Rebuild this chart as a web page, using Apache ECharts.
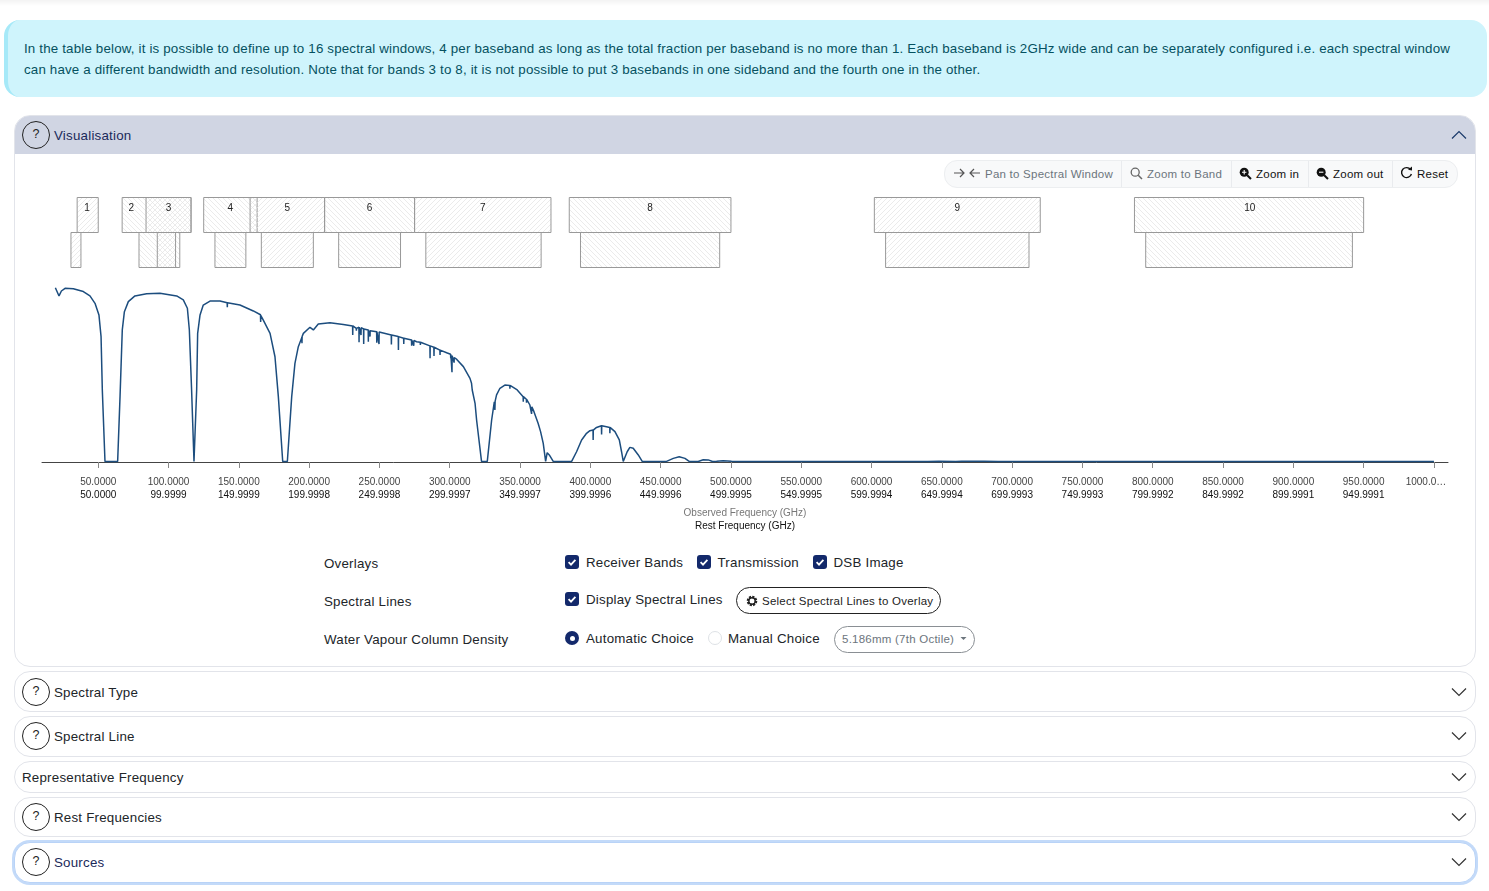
<!DOCTYPE html>
<html>
<head>
<meta charset="utf-8">
<title>Visualisation</title>
<script src="https://cdn.jsdelivr.net/npm/echarts@6/dist/echarts.min.js"></script>
<style>
  html, body { margin: 0; padding: 0; background: #fff; overflow: hidden; }
  body { width: 1489px; height: 891px; position: relative; font-family: "Liberation Sans", Arial, sans-serif; color: #212529; }
  .abs { position: absolute; white-space: nowrap; }
  .topfade { left: 0; top: 0; width: 1489px; height: 6px; background: linear-gradient(#f3f3f3, #fff); }
  .alert { left: 4px; top: 20px; width: 1459px; height: 77px; padding: 0 0 0 20px; box-sizing: content-box; background: #cff4fc; border-left: 4px solid #a6e9f8; border-radius: 16px; color: #055160; font-size: 13.33px; letter-spacing: 0.17px; line-height: 21.5px; white-space: normal; }
  .alert div { position: absolute; left: 16px; white-space: nowrap; }
  .card { left: 14px; width: 1460px; border: 1px solid #e2e4ea; border-radius: 16px; background: #fff; box-sizing: content-box; }
  .head { font-size: 13.33px; letter-spacing: 0.22px; line-height: 16px; }
  .q { width: 26px; height: 26px; border: 1px solid #222; border-radius: 50%; text-align: center; font-size: 12.5px; line-height: 24px; color: #222; background: transparent; }
  .lab { font-size: 13.33px; letter-spacing: 0.22px; color: #212529; line-height: 16px; }
  .chk { width: 14px; height: 14px; border-radius: 3px; background: #13296b; }
  .toolbar { left: 944px; top: 160px; width: 512px; height: 26px; border: 1px solid #eceef0; border-radius: 13px; background: #f8f9fa; }
  .sep { top: 161px; width: 1px; height: 26px; background: #e9ebee; }
  .tb { font-size: 11.5px; letter-spacing: 0.24px; line-height: 14px; top: 167px; }
  .pill { border: 1px solid #222; border-radius: 14px; box-sizing: border-box; }
  #chart { position: absolute; left: 20px; top: 190px; width: 1450px; height: 345px; }
</style>
</head>
<body>
<div class="abs topfade"></div>
<div class="abs alert">
  <div style="top:18px">In the table below, it is possible to define up to 16 spectral windows, 4 per baseband as long as the total fraction per baseband is no more than 1. Each baseband is 2GHz wide and can be separately configured i.e. each spectral window</div>
  <div style="top:39px">can have a different bandwidth and resolution. Note that for bands 3 to 8, it is not possible to put 3 basebands in one sideband and the fourth one in the other.</div>
</div>

<div class="abs card" style="top:115px;height:550px"></div>
<div class="abs" style="left:15px;top:116px;width:1460px;height:38px;background:#d0d5e3;border-radius:15px 15px 0 0"></div>
<div class="abs q" style="left:22px;top:121px">?</div>
<div class="abs head" style="left:54px;top:128px;color:#1b2a5a">Visualisation</div>
<svg class="abs" style="left:1451px;top:130px" width="16" height="10"><path d="M1 8.5 L8 1.5 L15 8.5" fill="none" stroke="#1b3a6b" stroke-width="1.2"/></svg>

<div class="abs toolbar"></div>
<div class="abs sep" style="left:1121px"></div>
<div class="abs sep" style="left:1231px"></div>
<div class="abs sep" style="left:1308px"></div>
<div class="abs sep" style="left:1392px"></div>
<svg class="abs" style="left:953px;top:167px" width="28" height="12"><path d="M1 6 H11 M7 2 L11 6 L7 10 M27 6 H17 M21 2 L17 6 L21 10" fill="none" stroke="#555" stroke-width="1.2"/></svg>
<div class="abs tb" style="left:985px;color:#6c757d">Pan to Spectral Window</div>
<svg class="abs" style="left:1130px;top:167px" width="13" height="13"><circle cx="5.2" cy="5.2" r="4" fill="none" stroke="#666" stroke-width="1.3"/><path d="M8.2 8.2 L12 12" stroke="#666" stroke-width="1.5"/></svg>
<div class="abs tb" style="left:1147px;color:#6c757d">Zoom to Band</div>
<svg class="abs" style="left:1239px;top:167px" width="13" height="13"><circle cx="5.2" cy="5.2" r="4.5" fill="#111"/><path d="M8.2 8.2 L12 12" stroke="#111" stroke-width="2"/><path d="M3 5.2 H7.4 M5.2 3 V7.4" stroke="#fff" stroke-width="1.1"/></svg>
<div class="abs tb" style="left:1256px;color:#111">Zoom in</div>
<svg class="abs" style="left:1316px;top:167px" width="13" height="13"><circle cx="5.2" cy="5.2" r="4.5" fill="#111"/><path d="M8.2 8.2 L12 12" stroke="#111" stroke-width="2"/><path d="M3 5.2 H7.4" stroke="#fff" stroke-width="1.1"/></svg>
<div class="abs tb" style="left:1333px;color:#111">Zoom out</div>
<svg class="abs" style="left:1400px;top:166px" width="13" height="14"><path d="M10.6 3.6 A5 5 0 1 0 11.4 8" fill="none" stroke="#111" stroke-width="1.4"/><path d="M8 3.8 L12 4.4 L12 0.6 Z" fill="#111"/></svg>
<div class="abs tb" style="left:1417px;color:#111">Reset</div>

<div id="chart"></div>

<div class="abs lab" style="left:324px;top:556px">Overlays</div>
<div class="abs lab" style="left:324px;top:594px">Spectral Lines</div>
<div class="abs lab" style="left:324px;top:632px">Water Vapour Column Density</div>

<div class="abs chk" style="left:565px;top:555px"><svg width="14" height="14"><path d="M3.6 7.2 L6 9.6 L10.4 4.8" fill="none" stroke="#fff" stroke-width="1.8"/></svg></div>
<div class="abs lab" style="left:586px;top:555px">Receiver Bands</div>
<div class="abs chk" style="left:697px;top:555px"><svg width="14" height="14"><path d="M3.6 7.2 L6 9.6 L10.4 4.8" fill="none" stroke="#fff" stroke-width="1.8"/></svg></div>
<div class="abs lab" style="left:717.5px;top:555px">Transmission</div>
<div class="abs chk" style="left:813px;top:555px"><svg width="14" height="14"><path d="M3.6 7.2 L6 9.6 L10.4 4.8" fill="none" stroke="#fff" stroke-width="1.8"/></svg></div>
<div class="abs lab" style="left:833.5px;top:555px">DSB Image</div>

<div class="abs chk" style="left:565px;top:592px"><svg width="14" height="14"><path d="M3.6 7.2 L6 9.6 L10.4 4.8" fill="none" stroke="#fff" stroke-width="1.8"/></svg></div>
<div class="abs lab" style="left:586px;top:592px">Display Spectral Lines</div>
<div class="abs pill" style="left:736px;top:587px;width:205px;height:27px"></div>
<svg class="abs" style="left:746px;top:595px" width="12" height="12"><circle cx="6" cy="6" r="4" fill="none" stroke="#222" stroke-width="2.6" stroke-dasharray="2 1.1"/><circle cx="6" cy="6" r="3.2" fill="none" stroke="#222" stroke-width="1.4"/></svg>
<div class="abs" style="left:762px;top:594px;font-size:11.5px;letter-spacing:0.24px;line-height:14px;color:#222">Select Spectral Lines to Overlay</div>

<div class="abs" style="left:565px;top:631px;width:14px;height:14px;border-radius:50%;background:#13296b"><div style="position:absolute;left:4.5px;top:4.5px;width:5px;height:5px;border-radius:50%;background:#fff"></div></div>
<div class="abs lab" style="left:586px;top:631px">Automatic Choice</div>
<div class="abs" style="left:708px;top:631px;width:12px;height:12px;border-radius:50%;border:1px solid #dee2e6;background:#fff"></div>
<div class="abs lab" style="left:728px;top:631px">Manual Choice</div>
<div class="abs pill" style="left:834px;top:626px;width:141px;height:27px;border-color:#8a8f94"></div>
<div class="abs" style="left:842px;top:632px;font-size:11.5px;letter-spacing:0.24px;line-height:14px;color:#6c757d">5.186mm (7th Octile)</div>
<svg class="abs" style="left:960px;top:636px" width="8" height="6"><path d="M0.5 1 H6.5 L3.5 4 Z" fill="#6c757d"/></svg>

<div class="abs card" style="top:671px;height:39px"></div>
<div class="abs q" style="left:22px;top:678px">?</div>
<div class="abs head" style="left:54px;top:685px">Spectral Type</div>
<div class="abs card" style="top:716px;height:39px"></div>
<div class="abs q" style="left:22px;top:722px">?</div>
<div class="abs head" style="left:54px;top:729px">Spectral Line</div>
<div class="abs card" style="top:761px;height:30px"></div>
<div class="abs head" style="left:22px;top:770px">Representative Frequency</div>
<div class="abs card" style="top:797px;height:38px"></div>
<div class="abs q" style="left:22px;top:803px">?</div>
<div class="abs head" style="left:54px;top:810px">Rest Frequencies</div>
<div class="abs card" style="top:842px;height:39px;border-color:#b9d3f7;box-shadow:0 0 0 2px #c3daf9"></div>
<div class="abs q" style="left:22px;top:848px">?</div>
<div class="abs head" style="left:54px;top:855px;color:#1b2a5a">Sources</div>
<svg class="abs" style="left:1451px;top:687px" width="16" height="10"><path d="M1 1.5 L8 8.5 L15 1.5" fill="none" stroke="#333" stroke-width="1.2"/></svg>
<svg class="abs" style="left:1451px;top:731px" width="16" height="10"><path d="M1 1.5 L8 8.5 L15 1.5" fill="none" stroke="#333" stroke-width="1.2"/></svg>
<svg class="abs" style="left:1451px;top:772px" width="16" height="10"><path d="M1 1.5 L8 8.5 L15 1.5" fill="none" stroke="#333" stroke-width="1.2"/></svg>
<svg class="abs" style="left:1451px;top:812px" width="16" height="10"><path d="M1 1.5 L8 8.5 L15 1.5" fill="none" stroke="#333" stroke-width="1.2"/></svg>
<svg class="abs" style="left:1451px;top:857px" width="16" height="10"><path d="M1 1.5 L8 8.5 L15 1.5" fill="none" stroke="#333" stroke-width="1.2"/></svg>

<script>
// Receiver bands (GHz)
const bandNames = ["1", "2", "3", "4", "5", "6", "7", "8", "9", "10"];
const bandLow   = [35, 67, 84, 125, 158, 211, 275, 385, 602, 787];
const bandHigh  = [50, 116, 116, 163, 211, 275, 372, 500, 720, 950];
const bandLabelAt = [42, 73.5, 100, 144, 184.5, 243, 323.5, 442.5, 661, 869];

// DSB image of each band (GHz)
const imageLow  = [30.6, 79, 92, 133, 166, 221, 283, 393, 610, 795];
const imageHigh = [37.7, 108, 105, 155, 203, 265, 365, 492, 712, 942];

// x axis ticks
const tickFreqs = [50, 100, 150, 200, 250, 300, 350, 400, 450, 500, 550, 600, 650, 700, 750, 800, 850, 900, 950, 1000];
const observedLabels = ["50.0000", "100.0000", "150.0000", "200.0000", "250.0000", "300.0000", "350.0000", "400.0000", "450.0000", "500.0000", "550.0000", "600.0000", "650.0000", "700.0000", "750.0000", "800.0000", "850.0000", "900.0000", "950.0000", "1000.0…"];
const restLabels = ["50.0000", "99.9999", "149.9999", "199.9998", "249.9998", "299.9997", "349.9997", "399.9996", "449.9996", "499.9995", "549.9995", "599.9994", "649.9994", "699.9993", "749.9993", "799.9992", "849.9992", "899.9991", "949.9991", ""];

// Atmospheric transmission, [GHz, fraction]
const transmissionLow = [
  [19.5,.917],[22.1,.874],[23.8,.900],[26.4,.914],[32.3,.912],[39.4,.897],[44.1,.874],[47.7,.835],[50.5,.774],[52,.66],[52.9,.379],[54.8,.003],
  [63.8,.003],[65.5,.344],[67.1,.695],[68.6,.791],[71.4,.844],[76.1,.874],[84.4,.886],[93.9,.888],[105.8,.874],[110.5,.853],[113.4,.809],[114.8,.695],[116.4,.379],[118.1,.003],
  [118.8,.003],[120,.379],[120.7,.677],[122.4,.774],[124.7,.826],[129.5,.847],[136.6,.847],[141.7,.838],[141.8,.814],[141.9,.838],[150.8,.826],[160.3,.795],[165.4,.775],[165.5,.737],[165.7,.770],[167.4,.747],[172.2,.677],[175.7,.554],[178.1,.344],[181.2,.003],
  [184.5,.003],[187.6,.344],[189.9,.519],[192.3,.607],[194.8,.655],[194.9,.625],[195,.66],[195.9,.677],[200.6,.709],[203,.695],[206.5,.726],[214.8,.733],[224.3,.724]
];
const transmissionMid = [
  [230.9,.716],[231,.668],[231.1,.716],[233.5,.703],[233.6,.691],[233.7,.703],[235.4,.709],[235.5,.63],[235.6,.709],[236.8,.707],[236.9,.668],[237,.707],
  [238.7,.7],[238.8,.621],[238.9,.7],[242,.695],[242.1,.633],[242.2,.695],[243.2,.691],[243.3,.66],[243.4,.691],[248,.686],[248.1,.628],[248.2,.686],[249.6,.684],[249.7,.621],[249.8,.684],
  [258.4,.668],[258.5,.619],[258.6,.668],[263.4,.66],[263.5,.589],[263.6,.66],[267.2,.651],[267.3,.621],[267.4,.651],[272.8,.642],[272.9,.612],[273,.642],[274.3,.64],[274.4,.612],[274.5,.64],
  [276.4,.633],[276.5,.623],[276.6,.633],[279,.63],[279.1,.616],[279.2,.63],[285.9,.611],[286,.546],[286.1,.611],[288.7,.604],[288.8,.558],[288.9,.604],[293,.589],[293.1,.563],[293.2,.589],
  [297.8,.575],[300.6,.567],[300.7,.546],[300.8,.565],[301.5,.563],[301.6,.472],[301.7,.56],[303,.554],[303.1,.523],[303.2,.55],[305,.54],[309.7,.502],[314.4,.44],[315.5,.414],[316,.379],[316.1,.388],[318,.309],[319.1,.221]
];
const transmissionHigh = [
  [322.6,.003],[326.7,.003],[329.8,.221],[331.7,.317],[332.1,.274],[332.3,.32],[333.3,.353],[335.7,.388],[339.2,.405],[342.7,.403],[342.8,.386],[342.9,.403],[348,.379],
  [352.2,.344],[352.3,.317],[352.4,.344],[354.5,.33],[354.6,.312],[354.7,.33],[357,.3],[358.2,.253],[358.4,.29],[359.9,.265],[362.9,.203],[364.6,.16],[366.5,.098],[368.2,.003],[369.3,.049],[370.8,.037],[373.6,.003],
  [386.7,.003],[390.2,.054],[393.8,.116],[397.3,.151],[399.7,.165],[401.9,.168],[402,.116],[402.1,.168],[404.4,.182],[407.9,.191],[408,.145],[408.1,.191],[411.5,.186],[413.8,.182],[413.9,.151],[414,.182],[417.5,.16],[420.6,.116],[422.2,.054],[423.4,.003],
  [424.6,.003],[426.2,.054],[428.1,.077],[430.5,.072],[434.1,.037],[436.9,.003],[454.2,.003],[459,.019],[463.2,.028],[467.3,.019],[470.3,.003],[476.7,.003],[480.3,.012],[483.9,.011],[486.9,.003],[489.8,.004],[494.5,.007],[500.4,.004],[505.2,.002],
  [640,.002],[648,.004],[660,.002],[664,.004],[680,.004],[690,.002],[1000,.002]
];

const LINE_COLOR = "#1c4d7e";

function hatch(forward) {
  const size = 5;
  const c = document.createElement("canvas");
  c.width = size; c.height = size;
  const g = c.getContext("2d");
  g.strokeStyle = "#e3e3e3";
  g.lineWidth = 0.7;
  g.beginPath();
  if (forward) {
    g.moveTo(-1, 1); g.lineTo(1, -1);
    g.moveTo(0, size); g.lineTo(size, 0);
    g.moveTo(size - 1, size + 1); g.lineTo(size + 1, size - 1);
  } else {
    g.moveTo(-1, size - 1); g.lineTo(1, size + 1);
    g.moveTo(0, 0); g.lineTo(size, size);
    g.moveTo(size - 1, -1); g.lineTo(size + 1, 1);
  }
  g.stroke();
  return c;
}
const hatchForward = { image: hatch(true), repeat: "repeat" };
const hatchBack = { image: hatch(false), repeat: "repeat" };

const bandBoxes = [];
bandNames.forEach((name, i) => {
  bandBoxes.push([bandLow[i], bandHigh[i], 0, i, bandLabelAt[i], name]);
});
imageLow.forEach((low, i) => {
  bandBoxes.push([low, imageHigh[i], 1, i, null, ""]);
});

function renderBox(params, api) {
  const topLeft = api.coord([api.value(0), api.value(2)]);
  const bottomRight = api.coord([api.value(1), api.value(2) + 1]);
  const band = api.value(3);
  const children = [{
    type: "rect",
    shape: { x: topLeft[0], y: topLeft[1], width: bottomRight[0] - topLeft[0], height: bottomRight[1] - topLeft[1] },
    style: { fill: band % 2 === 0 ? hatchForward : hatchBack, stroke: "#999", lineWidth: 1 },
  }];
  const row = api.value(2);
  if (row === 0) {
    const at = api.coord([bandBoxes[params.dataIndex][4], 0]);
    children.push({
      type: "text",
      style: {
        x: at[0], y: at[1] + 10.5, text: bandBoxes[params.dataIndex][5],
        fill: "#222", font: '10px "Liberation Sans", Arial, sans-serif',
        textAlign: "center", textVerticalAlign: "middle",
      },
    });
  }
  return { type: "group", children };
}

const chart = echarts.init(document.getElementById("chart"));
chart.setOption({
  animation: false,
  textStyle: { fontFamily: '"Liberation Sans", Arial, sans-serif' },
  grid: [
    { left: 22, width: 1406, top: 82, height: 190, outerBoundsMode: "none" },
    { left: 22, width: 1406, top: 7.5, height: 70, outerBoundsMode: "none" },
  ],
  xAxis: [
    {
      gridIndex: 0, type: "value", min: 10, max: 1010,
      splitLine: { show: false },
      axisLine: { lineStyle: { color: "#444", width: 1 } },
      axisTick: { customValues: tickFreqs, length: 6, lineStyle: { color: "#888", width: 1 } },
      axisLabel: {
        customValues: tickFreqs, margin: 14, hideOverlap: false, showMinLabel: true, showMaxLabel: true,
        formatter: v => {
          const i = tickFreqs.indexOf(v);
          if (!restLabels[i]) return "{e|" + observedLabels[i] + "}\n{r| }";
          return "{o|" + observedLabels[i] + "}\n{r|" + restLabels[i] + "}";
        },
        rich: {
          o: { fontSize: 10, color: "#444", lineHeight: 13 },
          e: { fontSize: 10, color: "#444", lineHeight: 13, padding: [0, 16, 0, 0] },
          r: { fontSize: 10, color: "#111", lineHeight: 13 },
        },
      },
      name: "{o|Observed Frequency (GHz)}\n{r|Rest Frequency (GHz)}",
      nameLocation: "middle", nameGap: 45,
      nameTextStyle: {
        rich: {
          o: { fontSize: 10, color: "#777", lineHeight: 13 },
          r: { fontSize: 10, color: "#111", lineHeight: 13 },
        },
      },
    },
    { gridIndex: 1, type: "value", min: 10, max: 1010, show: false },
  ],
  yAxis: [
    { gridIndex: 0, type: "value", min: 0, max: 1, show: false },
    { gridIndex: 1, type: "value", min: 0, max: 2, inverse: true, show: false },
  ],
  series: [
    {
      type: "custom", xAxisIndex: 1, yAxisIndex: 1, renderItem: renderBox,
      data: bandBoxes.map(b => b.slice(0, 4)), clip: false, silent: true,
    },
    {
      type: "line", xAxisIndex: 0, yAxisIndex: 0, showSymbol: false, smooth: false, clip: false,
      lineStyle: { color: LINE_COLOR, width: 1.5 }, silent: true,
      data: transmissionLow.concat(transmissionMid, transmissionHigh),
    },
  ],
});
</script>
</body>
</html>
